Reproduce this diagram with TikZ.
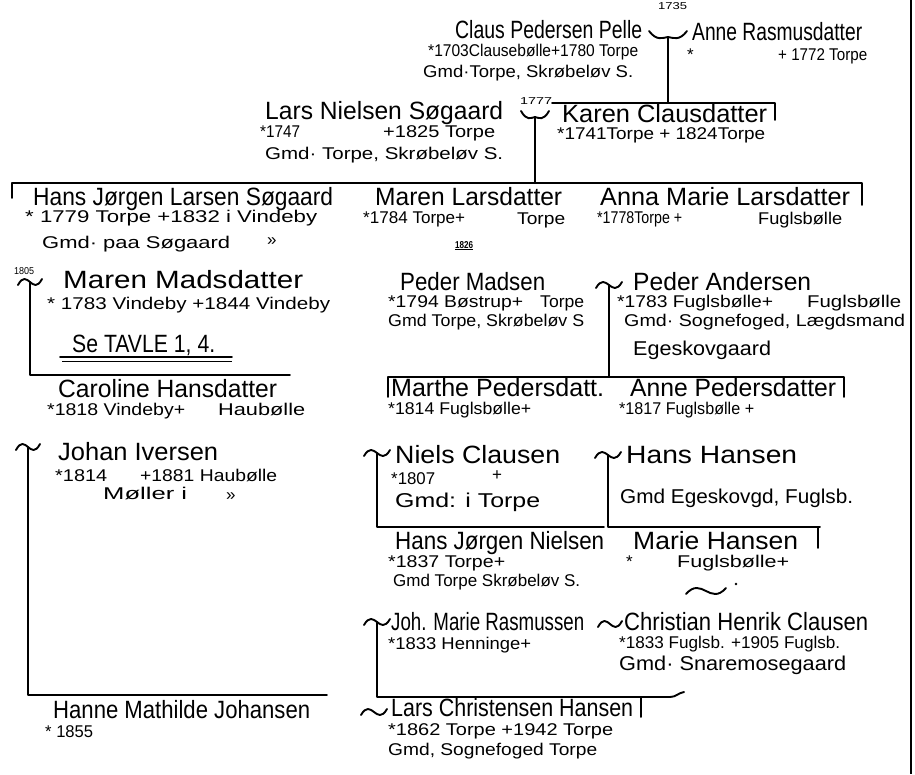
\documentclass[tikz,border=0pt]{standalone}
\usepackage{fontspec}
\usepackage{graphicx}
\newfontfamily\hand{Liberation Sans}
\newsavebox\fitbox
\newcommand\fitw[2]{\sbox\fitbox{#2}\scalebox{\fpeval{(#1)/(\the\wd\fitbox)}}[1]{\usebox\fitbox}}
\tikzset{
  nm/.style={anchor=base west, inner sep=0pt, font=\hand\fontsize{25}{25}\selectfont},
  mid/.style={anchor=base west, inner sep=0pt, font=\hand\fontsize{20}{20}\selectfont},
  inf/.style={anchor=base west, inner sep=0pt, font=\hand\fontsize{17}{17}\selectfont},
  yr/.style={anchor=base west, inner sep=0pt, font=\hand\fontsize{10}{10}\selectfont},
  ln/.style={line width=1.9pt, line cap=round, line join=round},
}
\newcommand\smilemark[2]{\draw[ln] ([shift={(-#2,-6)}]#1) .. controls ([shift={(-#2*0.6,4)}]#1) and ([shift={(-#2*0.3,1)}]#1) .. (#1) .. controls ([shift={(#2*0.3,1)}]#1) and ([shift={(#2*0.6,4)}]#1) .. ([shift={(#2,-6)}]#1);}
\newcommand\tildemark[2]{\draw[ln] ([shift={(-#2,3)}]#1) .. controls ([shift={(-#2*0.6,-6)}]#1) and ([shift={(-#2*0.3,-3)}]#1) .. (#1) .. controls ([shift={(#2*0.3,3)}]#1) and ([shift={(#2*0.6,6)}]#1) .. ([shift={(#2,-3)}]#1);}
\begin{document}
\begin{tikzpicture}[x=1pt,y=-1pt]
\fill[white] (0,0) rectangle (915,774);
\useasboundingbox (0,0) rectangle (915,774);
\draw[line width=2.5pt] (911,0) -- (911,774);

% ---------- generation 1
\node[yr] (y1735) at (658,9) {\fitw{29}{1735}};
\node[nm] (nclaus) at (455,38) {\fitw{187}{Claus Pedersen Pelle}};
\node[inf] (iclausa) at (428,56) {\fitw{210}{*1703Clausebølle+1780 Torpe}};
\node[inf] (iclausb) at (423,77) {\fitw{210}{Gmd·Torpe, Skrøbeløv S.}};
\node[nm] (nanne) at (692,40) {\fitw{170}{Anne Rasmusdatter}};
\node[inf] (iannea) at (687,60) {*};
\node[inf] (ianneb) at (778,60) {\fitw{89}{+ 1772 Torpe}};
\coordinate (t1) at (668,37);
\smilemark{t1}{19}
\coordinate (j1) at (668,103);
\draw[ln] (t1) -- (j1);

% ---------- generation 2
\node[nm] (nlars) at (265,119) {\fitw{238}{Lars Nielsen Søgaard}};
\node[inf] (ilarsa) at (260,137) {\fitw{40}{*1747}};
\node[inf] (ilarsb) at (383,137) {\fitw{112}{+1825 Torpe}};
\node[inf] (ilarsc) at (265,159) {\fitw{238}{Gmd· Torpe, Skrøbeløv S.}};
\node[yr] (y1777) at (520,104) {\fitw{32}{1777}};
\coordinate (t2) at (535,117);
\smilemark{t2}{14}
\node[nm] (nkaren) at (562,122) {\fitw{205}{Karen Clausdatter}};
\node[inf] (ikaren) at (557,139) {\fitw{208}{*1741Torpe + 1824Torpe}};
\coordinate (kl) at (552,103);
\coordinate (kr) at (775,120);
\draw[ln] (kl) -| (kr);

% ---------- children of Lars & Karen
\coordinate (cl) at (12,198);
\coordinate (cr) at (862,205);
\coordinate (j2) at (535,183);
\draw[ln] (cl) |- (j2) -| (cr);
\draw[ln] (t2) -- (j2);

\node[nm] (nhj) at (33,205) {\fitw{300}{Hans Jørgen Larsen Søgaard}};
\node[inf] (ihja) at (25,222) {\fitw{292}{* 1779 Torpe +1832 i Vindeby}};
\node[inf] (ihjb) at (42,248) {\fitw{188}{Gmd· paa Søgaard}};
\node[inf] (ihjc) at (267,245) {»};
\node[nm] (nmaren) at (375,205) {\fitw{187}{Maren Larsdatter}};
\node[inf] (imarena) at (363,223) {\fitw{102}{*1784 Torpe+}};
\node[inf] (imarenb) at (517,224) {\fitw{48}{Torpe}};
\node[yr, font=\hand\bfseries\fontsize{10}{10}\selectfont] (y1826) at (455,248) {\underline{\fitw{18}{1826}}};
\node[nm] (nanna) at (600,205) {\fitw{250}{Anna Marie Larsdatter}};
\node[inf] (iannaa) at (597,223) {\fitw{85}{*1778Torpe +}};
\node[inf] (iannab) at (758,224) {\fitw{84}{Fuglsbølle}};

% ---------- Hans Jørgen & Maren Madsdatter
\node[yr] (y1805) at (14,274) {\fitw{20}{1805}};
\coordinate (t3) at (30,282);
\tildemark{t3}{12}
\coordinate (e3) at (290,375);
\draw[ln] (t3) |- (e3);
\node[nm] (nmm) at (63,288) {\fitw{240}{Maren Madsdatter}};
\node[inf] (imm) at (47,309) {\fitw{283}{* 1783 Vindeby +1844 Vindeby}};
\node[nm] (tavle) at (72,352) {\fitw{143}{Se TAVLE 1, 4.}};
\draw[ln] (60,357) -- (232,357);
\draw[line width=1pt] (62,361) -- (232,361);
\node[nm] (ncar) at (58,397) {\fitw{219}{Caroline Hansdatter}};
\node[inf] (icara) at (47,415) {\fitw{138}{*1818 Vindeby+}};
\node[inf] (icarb) at (218,415) {\fitw{87}{Haubølle}};

% ---------- Peder Madsen & Peder Andersen
\node[nm] (npm) at (400,290) {\fitw{145}{Peder Madsen}};
\node[inf] (ipma) at (388,307) {\fitw{135}{*1794 Bøstrup+}};
\node[inf] (ipmb) at (540,307) {\fitw{44}{Torpe}};
\node[inf] (ipmc) at (388,326) {\fitw{196}{Gmd Torpe, Skrøbeløv S}};
\coordinate (t4) at (609,285);
\tildemark{t4}{13}
\node[nm] (npa) at (633,290) {\fitw{178}{Peder Andersen}};
\node[inf] (ipaa) at (617,307) {\fitw{156}{*1783 Fuglsbølle+}};
\node[inf] (ipab) at (807,307) {\fitw{94}{Fuglsbølle}};
\node[inf] (ipac) at (624,326) {\fitw{281}{Gmd· Sognefoged, Lægdsmand}};
\node[mid] (ipad) at (633,355) {\fitw{138}{Egeskovgaard}};
\coordinate (pl) at (388,397);
\coordinate (pr) at (844,397);
\coordinate (j4) at (609,377);
\draw[ln] (pl) |- (j4) -| (pr);
\draw[ln] (t4) -- (j4);
\node[nm] (nmarthe) at (391,396) {\fitw{213}{Marthe Pedersdatt.}};
\node[inf] (imarthe) at (388,414) {\fitw{143}{*1814 Fuglsbølle+}};
\node[nm] (nannep) at (630,396) {\fitw{206}{Anne Pedersdatter}};
\node[inf] (iannep) at (619,414) {\fitw{135}{*1817 Fuglsbølle +}};

% ---------- Johan Iversen
\coordinate (t5) at (28,447);
\tildemark{t5}{12}
\coordinate (e5) at (327,695);
\draw[ln] (t5) |- (e5);
\node[nm] (njohan) at (58,460) {\fitw{160}{Johan Iversen}};
\node[inf] (ijohana) at (55,481) {\fitw{52}{*1814}};
\node[inf] (ijohanb) at (140,481) {\fitw{137}{+1881 Haubølle}};
\node[inf] (ijohanc) at (103,499) {\fitw{84}{Møller i}};
\node[inf] (ijohand) at (226,500) {»};
\node[nm] (nhanne) at (53,718) {\fitw{257}{Hanne Mathilde Johansen}};
\node[inf] (ihanne) at (45,737) {\fitw{48}{* 1855}};

% ---------- Niels Clausen & Hans Hansen
\coordinate (t6) at (377,453);
\tildemark{t6}{13}
\coordinate (e6) at (604,527);
\draw[ln] (t6) |- (e6);
\node[nm] (nniels) at (395,463) {\fitw{165}{Niels Clausen}};
\node[inf] (inielsa) at (391,484) {\fitw{44}{*1807}};
\node[inf] (inielsb) at (492,480) {+};
\node[mid] (inielsc) at (395,507) {\fitw{145}{Gmd: i Torpe}};
\coordinate (t7) at (608,455);
\tildemark{t7}{13}
\coordinate (e7) at (818,548);
\draw[ln] (t7) |- (820,527) -- (818,527) -- (e7);
\node[nm] (nhh) at (626,463) {\fitw{171}{Hans Hansen}};
\node[mid] (ihh) at (620,503) {\fitw{233}{Gmd Egeskovgd, Fuglsb.}};
\node[nm] (nhjn) at (395,549) {\fitw{209}{Hans Jørgen Nielsen}};
\node[inf] (ihjna) at (388,567) {\fitw{117}{*1837 Torpe+}};
\node[inf] (ihjnb) at (393,586) {\fitw{187}{Gmd Torpe Skrøbeløv S.}};
\node[nm] (nmh) at (633,549) {\fitw{165}{Marie Hansen}};
\node[inf] (imha) at (626,567) {*};
\node[inf] (imhb) at (677,567) {\fitw{112}{Fuglsbølle+}};
\coordinate (t9) at (706,591);
\tildemark{t9}{20}
\fill (736,584) circle (1.3);

% ---------- Joh. Marie Rasmussen & Christian Henrik Clausen
\coordinate (t8) at (377,622);
\tildemark{t8}{13}
\coordinate (e8) at (670,697);
\draw[ln] (t8) |- (e8) .. controls (676,697) and (678,693) .. (684,692);
\node[nm] (njm) at (391,630) {\fitw{193}{Joh. Marie Rasmussen}};
\node[inf] (ijm) at (388,649) {\fitw{143}{*1833 Henninge+}};
\coordinate (t10) at (610,624);
\tildemark{t10}{12}
\node[nm] (nch) at (624,630) {\fitw{244}{Christian Henrik Clausen}};
\node[inf] (icha) at (619,648) {\fitw{221}{*1833 Fuglsb. +1905 Fuglsb.}};
\node[mid] (ichb) at (619,670) {\fitw{227}{Gmd· Snaremosegaard}};

% ---------- Lars Christensen Hansen
\coordinate (t11) at (374,712);
\tildemark{t11}{13}
\node[nm] (nlch) at (391,716) {\fitw{242}{Lars Christensen Hansen}};
\draw[ln] (641,698) -- (641,717);
\node[inf] (ilcha) at (388,735) {\fitw{225}{*1862 Torpe +1942 Torpe}};
\node[inf] (ilchb) at (388,755) {\fitw{209}{Gmd, Sognefoged Torpe}};
\end{tikzpicture}
\end{document}
